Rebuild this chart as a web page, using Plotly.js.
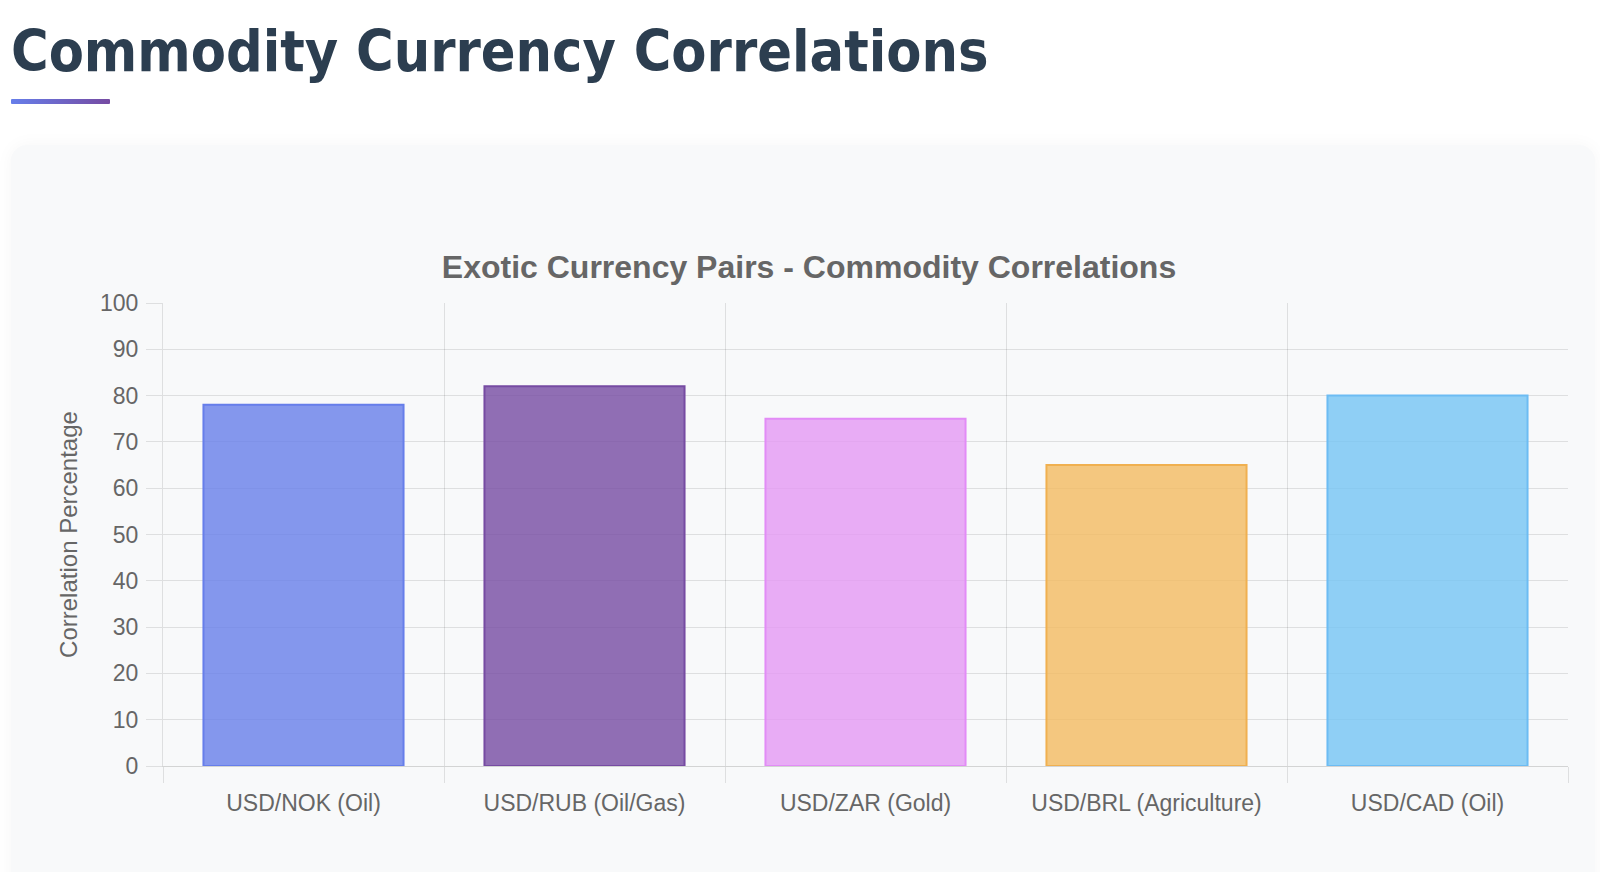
<!DOCTYPE html>
<html>
<head>
<meta charset="utf-8">
<script src="https://cdn.plot.ly/plotly-3.0.1.min.js"></script>
<style>
  html, body { margin: 0; padding: 0; background: #ffffff; width: 1600px; height: 872px; overflow: hidden; }
  h1 {
    position: absolute; left: 11px; top: 23px; margin: 0;
    font-family: "DejaVu Sans Condensed", "DejaVu Sans", sans-serif; font-weight: bold;
    font-size: 57px; line-height: 1; color: #2c3e50; white-space: nowrap;
  }
  .bar { position: absolute; left: 11px; top: 99px; width: 99px; height: 5px;
    background: linear-gradient(90deg, #667eea, #764ba2); border-radius: 1px; }
  .card { position: absolute; left: 11px; top: 145px; width: 1584px; height: 760px;
    background: #f8f9fa; border-radius: 16px; box-shadow: 0 0 18px rgba(0,0,0,0.04); }
  #chart { position: absolute; left: 0; top: 0; width: 1600px; height: 872px; }
</style>
</head>
<body>
<h1>Commodity Currency Correlations</h1>
<div class="bar"></div>
<div class="card"></div>
<div id="chart"></div>
<script>
const categories = ["USD/NOK (Oil)", "USD/RUB (Oil/Gas)", "USD/ZAR (Gold)", "USD/BRL (Agriculture)", "USD/CAD (Oil)"];
const correlations = [78, 82, 75, 65, 80];
const fillColors = ["rgba(102,126,234,0.8)", "rgba(118,75,162,0.8)", "rgba(228,152,244,0.8)", "rgba(243,186,96,0.8)", "rgba(116,196,244,0.8)"];
const borderColors = ["#667eea", "#764ba2", "#e28cf6", "#f0b050", "#6cbcf3"];
const yTicks = [0, 10, 20, 30, 40, 50, 60, 70, 80, 90, 100];

const grid = "rgba(0,0,0,0.1)";
const font = "Liberation Sans, Arial, sans-serif";
const trace = {
  type: "bar",
  x: categories,
  y: correlations,
  marker: { color: fillColors, line: { color: borderColors, width: 2 } },
  hoverinfo: "x+y"
};

const layout = {
  width: 1600, height: 872,
  paper_bgcolor: "rgba(0,0,0,0)",
  plot_bgcolor: "rgba(0,0,0,0)",
  margin: { l: 163, r: 32, t: 303, b: 106 },
  bargap: 0.288,
  showlegend: false,
  title: {
    text: "<b>Exotic Currency Pairs - Commodity Correlations</b>",
    font: { family: font, size: 32, color: "#666666" },
    x: 809 / 1600, xanchor: "center", xref: "container",
    y: 1 - 267 / 872, yanchor: "middle", yref: "container"
  },
  xaxis: {
    type: "category",
    tickson: "boundaries",
    showgrid: true, gridcolor: grid, gridwidth: 1,
    ticks: "outside", ticklen: 16, tickcolor: grid, tickwidth: 1,
    showline: true, linecolor: "rgba(0,0,0,0.15)", linewidth: 1,
    tickfont: { family: font, size: 23, color: "#666666" },
    ticklabelstandoff: 16,
    fixedrange: true
  },
  yaxis: {
    range: [0, 100],
    tickvals: yTicks,
    showgrid: true, gridcolor: grid, gridwidth: 1,
    zeroline: false,
    ticks: "outside", ticklen: 16, tickcolor: grid, tickwidth: 1,
    showline: true, linecolor: grid, linewidth: 1,
    tickfont: { family: font, size: 23, color: "#666666" },
    ticklabelstandoff: 3,
    title: {
      text: "Correlation Percentage",
      font: { family: font, size: 24, color: "#666666" },
      standoff: 15
    },
    fixedrange: true
  }
};

Plotly.newPlot("chart", [trace], layout, { displayModeBar: false });
</script>
</body>
</html>
